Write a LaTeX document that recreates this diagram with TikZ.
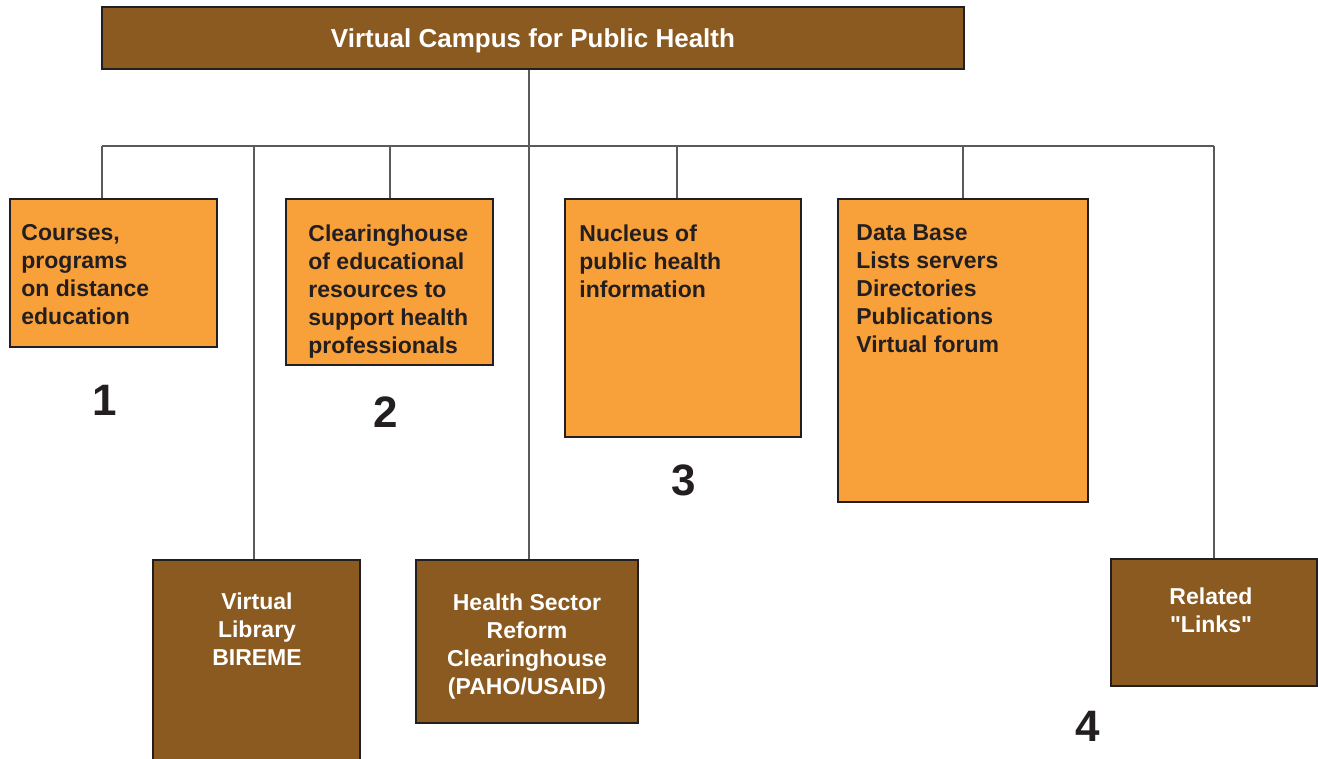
\documentclass[tikz,border=0pt]{standalone}
\usepackage{fontspec}
\setmainfont{Liberation Sans}[Ligatures=TeXOff]
\usepackage{tikz}
\usetikzlibrary{positioning}
\definecolor{campusbrown}{HTML}{8A5A20}
\definecolor{campusorange}{HTML}{F8A03A}
\definecolor{inkdark}{HTML}{231F20}
\definecolor{linkgray}{HTML}{5A5A5A}

\begin{document}
\begin{tikzpicture}[
    x=0.5pt, y=-0.5pt,
    every node/.style={font=\bfseries\fontsize{11.5}{14}\selectfont},
    root/.style={
        rectangle,
        draw=inkdark,
        fill=campusbrown,
        line width=0.6pt,
        text=white,
        text depth=0pt,
        minimum width=431pt,
        minimum height=31pt,
        font=\bfseries\fontsize{13}{15.6}\selectfont
    },
    area/.style={
        rectangle,
        draw=inkdark,
        fill=campusorange,
        line width=0.6pt,
        inner sep=0pt
    },
    resource/.style={
        rectangle,
        draw=inkdark,
        fill=campusbrown,
        line width=0.6pt,
        inner sep=0pt
    },
    areatext/.style={
        anchor=north west,
        align=left,
        inner sep=0pt,
        text=inkdark
    },
    restext/.style={
        anchor=north,
        align=center,
        inner sep=0pt,
        text=white
    },
    number/.style={
        text=inkdark,
        font=\bfseries\fontsize{22}{24}\selectfont
    },
    link/.style={line width=0.7pt, color=linkgray}
]

\useasboundingbox (0,0) rectangle (1318,759);

% Bus and stems
\coordinate (s1) at (102,146);
\coordinate (s2) at (254,146);
\coordinate (s3) at (390,146);
\coordinate (s4) at (529,146);
\coordinate (s5) at (677,146);
\coordinate (s6) at (963,146);
\coordinate (s7) at (1214,146);

% Root
\node[root] (root) at (533,38) {Virtual Campus for Public Health};

% Upper row (orange)
\node[area, minimum width=103.5pt, minimum height=74pt] (c1) at (113.5,273) {};
\node[area, minimum width=103.5pt, minimum height=83pt] (c2) at (389.5,282) {};
\node[area, minimum width=118pt, minimum height=119pt] (c3) at (683,318) {};
\node[area, minimum width=125pt, minimum height=151.5pt] (c4) at (963,350.5) {};

\node[areatext] (t1) at (21,224) {Courses,\\programs\\on distance\\education};
\node[areatext] (t2) at (308,224) {Clearinghouse\\of educational\\resources to\\support health\\professionals};
\node[areatext] (t3) at (579,224) {Nucleus of\\public health\\information};
\node[areatext] (t4) at (856,224) {Data Base\\Lists servers\\Directories\\Publications\\Virtual forum};

% Lower row (brown)
\node[resource, minimum width=103.5pt, minimum height=110pt] (r1) at (256.5,670) {};
\node[resource, minimum width=111pt, minimum height=81.5pt] (r2) at (527,641.5) {};
\node[resource, minimum width=103pt, minimum height=63.5pt] (r3) at (1214,622.5) {};

\node[restext] (u1) at (257,592) {Virtual\\Library\\BIREME};
\node[restext] (u2) at (527,593) {Health Sector\\Reform\\Clearinghouse\\(PAHO/USAID)};
\node[restext] (u3) at (1211,587) {Related\\"Links"};

% Numbers
\node[number] (n1) at (105,400) {1};
\node[number] (n2) at (386,412) {2};
\node[number] (n3) at (684,480) {3};
\node[number] (n4) at (1088,726) {4};

% Connectors
\draw[link] (root.south -| s4) -- (s4);
\draw[link] (s1) -- (s7);
\draw[link] (s1) -- (s1 |- c1.north);
\draw[link] (s2) -- (s2 |- r1.north);
\draw[link] (s3) -- (s3 |- c2.north);
\draw[link] (s4) -- (s4 |- r2.north);
\draw[link] (s5) -- (s5 |- c3.north);
\draw[link] (s6) -- (s6 |- c4.north);
\draw[link] (s7) -- (s7 |- r3.north);

\end{tikzpicture}
\end{document}
